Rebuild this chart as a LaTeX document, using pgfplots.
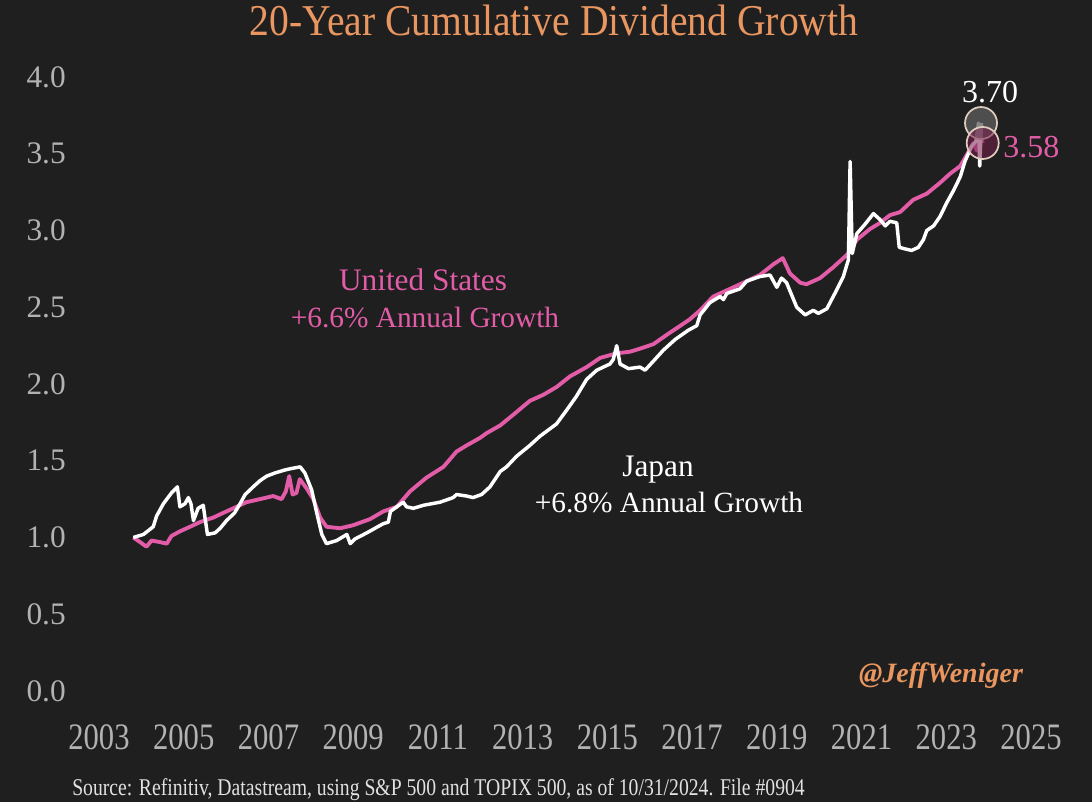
\documentclass[border=0pt]{standalone}
\usepackage{fontspec}
\setmainfont{Liberation Serif}
\newfontfamily\condserif[FakeStretch=0.82]{Liberation Serif}
\newfontfamily\titlefont[FakeStretch=0.9]{Liberation Serif}
\usepackage{pgfplots}
\pgfplotsset{compat=1.18}
\definecolor{bg}{RGB}{31,31,31}
\definecolor{usPink}{RGB}{226,92,168}
\definecolor{titleOrange}{RGB}{233,150,96}
\definecolor{tickGray}{RGB}{178,178,178}
\definecolor{srcGray}{RGB}{225,225,225}
\definecolor{ringBeige}{RGB}{222,205,190}
\definecolor{dotGray}{RGB}{95,95,95}
\definecolor{dotPink}{RGB}{120,30,75}

\pgfplotstableread{
year val
2003.81 1.00
2004.05 1.02
2004.28 1.07
2004.36 1.14
2004.52 1.22
2004.71 1.29
2004.85 1.33
2004.91 1.20
2005.03 1.22
2005.11 1.26
2005.17 1.22
2005.23 1.11
2005.34 1.19
2005.46 1.21
2005.56 1.02
2005.74 1.03
2005.86 1.06
2006.01 1.11
2006.20 1.16
2006.33 1.22
2006.45 1.28
2006.64 1.33
2006.80 1.37
2006.96 1.40
2007.15 1.42
2007.39 1.44
2007.55 1.45
2007.75 1.46
2007.86 1.42
2008.02 1.31
2008.14 1.16
2008.26 1.02
2008.37 0.96
2008.61 0.98
2008.85 1.02
2008.93 0.96
2009.04 0.99
2009.32 1.03
2009.71 1.09
2009.83 1.10
2009.88 1.17
2010.18 1.23
2010.26 1.20
2010.42 1.19
2010.66 1.21
2011.05 1.23
2011.36 1.26
2011.44 1.28
2011.68 1.27
2011.83 1.26
2012.03 1.28
2012.23 1.33
2012.47 1.43
2012.62 1.46
2012.86 1.53
2013.17 1.60
2013.41 1.66
2013.80 1.74
2014.04 1.83
2014.27 1.92
2014.51 2.03
2014.75 2.09
2015.06 2.13
2015.14 2.16
2015.22 2.25
2015.30 2.13
2015.50 2.10
2015.77 2.11
2015.89 2.09
2016.09 2.15
2016.32 2.22
2016.60 2.29
2016.91 2.35
2017.11 2.38
2017.19 2.45
2017.42 2.53
2017.66 2.57
2017.74 2.55
2017.82 2.59
2018.13 2.62
2018.29 2.67
2018.60 2.70
2018.84 2.71
2019.00 2.63
2019.11 2.69
2019.23 2.66
2019.47 2.50
2019.67 2.45
2019.86 2.48
2019.98 2.46
2020.18 2.49
2020.37 2.59
2020.57 2.70
2020.69 2.81
2020.73 3.45
2020.78 2.85
2020.89 2.98
2021.08 3.04
2021.28 3.11
2021.44 3.07
2021.56 3.03
2021.67 3.06
2021.83 3.05
2021.89 2.89
2022.03 2.88
2022.18 2.87
2022.34 2.89
2022.46 2.94
2022.54 3.00
2022.70 3.03
2022.85 3.09
2023.01 3.18
2023.17 3.26
2023.33 3.35
2023.44 3.45
2023.60 3.55
2023.70 3.58
2023.76 3.70
2023.79 3.42
2023.83 3.70
}\japan

\pgfplotstableread{
year val
2003.81 1.00
2003.97 0.97
2004.12 0.94
2004.24 0.98
2004.44 0.97
2004.60 0.96
2004.71 1.01
2004.91 1.04
2005.15 1.07
2005.38 1.10
2005.70 1.13
2005.93 1.16
2006.17 1.19
2006.48 1.23
2006.80 1.25
2007.11 1.27
2007.31 1.25
2007.41 1.30
2007.49 1.40
2007.57 1.28
2007.66 1.29
2007.74 1.38
2007.90 1.32
2008.06 1.25
2008.22 1.13
2008.37 1.07
2008.69 1.06
2009.00 1.08
2009.40 1.12
2009.71 1.17
2010.03 1.20
2010.34 1.30
2010.73 1.39
2011.13 1.46
2011.44 1.56
2011.68 1.60
2012.00 1.65
2012.15 1.68
2012.47 1.73
2012.78 1.80
2013.17 1.89
2013.49 1.93
2013.80 1.98
2014.12 2.05
2014.51 2.11
2014.83 2.17
2015.22 2.20
2015.53 2.21
2015.77 2.23
2016.09 2.26
2016.40 2.32
2016.94 2.42
2017.19 2.48
2017.50 2.57
2017.82 2.61
2018.21 2.66
2018.60 2.71
2018.92 2.78
2019.14 2.82
2019.31 2.72
2019.55 2.66
2019.70 2.65
2020.02 2.69
2020.33 2.76
2020.65 2.84
2020.89 2.94
2021.20 3.01
2021.44 3.05
2021.67 3.10
2021.91 3.12
2022.22 3.20
2022.54 3.24
2022.85 3.31
2023.09 3.37
2023.33 3.42
2023.48 3.49
2023.64 3.57
2023.72 3.52
2023.80 3.62
2023.86 3.57
}\usa

\begin{document}
\begin{tikzpicture}[x=0.75pt,y=0.75pt]
\fill[bg] (0,0) rectangle (1092,802);
\useasboundingbox (0,0) rectangle (1092,802);
\begin{axis}[
  at={(74.25pt,83.25pt)}, anchor=south west,
  scale only axis, width=699pt, height=460.5pt,
  xmin=2003, xmax=2025, ymin=0, ymax=4,
  clip=false,
  axis line style={draw=none},
  major tick length=0pt,
  xtick={2003,2005,2007,2009,2011,2013,2015,2017,2019,2021,2023,2025},
  xticklabels={2003,2005,2007,2009,2011,2013,2015,2017,2019,2021,2023,2025},
  ytick={0,0.5,1,1.5,2,2.5,3,3.5,4},
  yticklabels={0.0,0.5,1.0,1.5,2.0,2.5,3.0,3.5,4.0},
  xticklabel style={font=\condserif\fontsize{28}{30}\selectfont, text=tickGray, anchor=center, inner sep=0pt, yshift=-34.5pt},
  yticklabel style={font=\fontsize{23.5}{26}\selectfont, text=tickGray, anchor=east, inner sep=0pt, xshift=-24.75pt},
]
\addplot[usPink, line width=2.9pt, line join=round] table[x=year,y=val] {\usa};
\addplot[white, line width=2.6pt, line join=round] table[x=year,y=val] {\japan};
\addplot[only marks, mark=*, mark size=12pt, mark options={fill=dotGray, fill opacity=0.75, draw=ringBeige, line width=1.3pt}] coordinates {(2023.82,3.70)};
\addplot[only marks, mark=*, mark size=12pt, mark options={fill=dotPink, fill opacity=0.55, draw=ringBeige, line width=1.3pt}] coordinates {(2023.86,3.57)};
\end{axis}
\node[anchor=base, inner sep=0pt, text=titleOrange, font=\titlefont\fontsize{33}{36}\selectfont] at (554,766) {20-Year Cumulative Dividend Growth};
\node[anchor=base, inner sep=0pt, text=usPink, font=\fontsize{23.5}{26}\selectfont] at (423,511) {United States};
\node[anchor=base, inner sep=0pt, text=usPink, font=\fontsize{22}{25}\selectfont] at (425,474) {+6.6\% Annual Growth};
\node[anchor=base, inner sep=0pt, text=white, font=\fontsize{23.5}{26}\selectfont] at (658,325) {Japan};
\node[anchor=base, inner sep=0pt, text=white, font=\fontsize{22}{25}\selectfont] at (669,289) {+6.8\% Annual Growth};
\node[anchor=base, inner sep=0pt, text=white, font=\fontsize{24}{27}\selectfont] at (990,699) {3.70};
\node[anchor=base west, inner sep=0pt, text=usPink, font=\fontsize{24}{27}\selectfont] at (1003,644) {3.58};
\node[anchor=base, inner sep=0pt, text=titleOrange, font=\bfseries\itshape\fontsize{21}{24}\selectfont] at (941,119) {@JeffWeniger};
\node[anchor=base west, inner sep=0pt, text=srcGray, font=\condserif\fontsize{18}{20}\selectfont] at (72,6) {Source: Refinitiv, Datastream, using S\&P 500 and TOPIX 500, as of 10/31/2024. File \#0904};
\end{tikzpicture}
\end{document}
